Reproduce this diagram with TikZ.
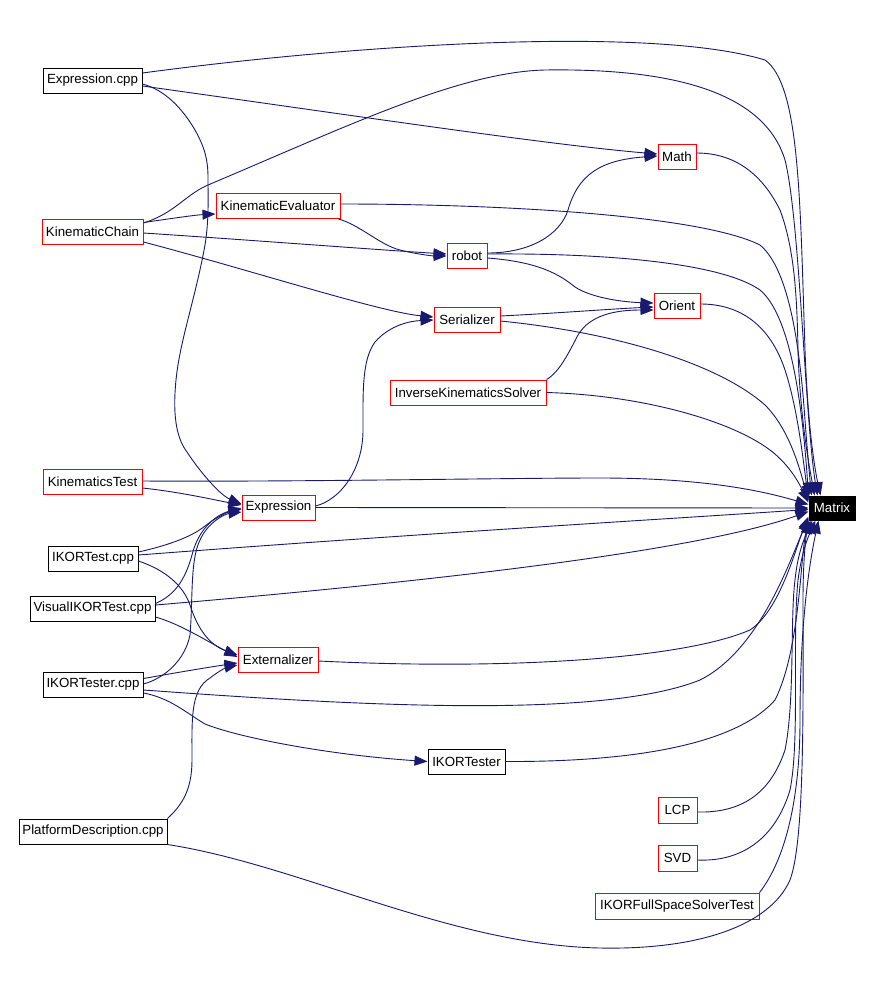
\documentclass[tikz,border=0pt]{standalone}
\usepackage{fontspec}
\setmainfont{Liberation Sans}
\usetikzlibrary{arrows.meta}
\definecolor{edgeblue}{RGB}{25,25,112}
\begin{document}
\begin{tikzpicture}[x=1pt,y=-1pt,
  box/.style={draw,line width=1pt,inner sep=0pt,minimum height=25pt,font=\fontsize{13.3}{15}\selectfont,text=black},
  rbox/.style={box,draw=red},
  kbox/.style={box,draw=black},
  edge/.style={draw=edgeblue,line width=0.9pt,-{Triangle[length=13pt,width=10pt]},fill=none}]
\fill[white] (0,0) rectangle (879,1004);
\useasboundingbox (0,0) rectangle (879,1004);

% nodes
\node[kbox,minimum width=99pt] (exprcpp) at (92.5,80.5) {Expression.cpp};
\node[rbox,minimum width=101pt] (kc) at (92.5,231.5) {KinematicChain};
\node[rbox,minimum width=124pt] (kineval) at (278,206) {KinematicEvaluator};
\node[rbox,minimum width=38pt] (math) at (677,156.5) {Math};
\node[rbox,minimum width=40pt] (robot) at (467,255.5) {robot};
\node[rbox,minimum width=46pt] (orient) at (677,306) {Orient};
\node[rbox,minimum width=66pt] (ser) at (467,319.5) {Serializer};
\node[rbox,minimum width=156pt] (iks) at (468,392.5) {InverseKinematicsSolver};
\node[rbox,minimum width=99pt] (kt) at (92.5,482) {KinematicsTest};
\node[rbox,minimum width=73pt] (expr) at (278.5,507.5) {Expression};
\node[kbox,minimum width=90pt] (ikt) at (93,558.5) {IKORTest.cpp};
\node[kbox,minimum width=125pt] (vikt) at (92.5,608.5) {VisualIKORTest.cpp};
\node[rbox,minimum width=80pt] (ext) at (278,659.5) {Externalizer};
\node[kbox,minimum width=100pt] (iktrcpp) at (93,684.5) {IKORTester.cpp};
\node[kbox,minimum width=77pt] (iktr) at (466.5,761.5) {IKORTester};
\node[kbox,minimum width=148pt] (pd) at (93,831.5) {PlatformDescription.cpp};
\node[rbox,minimum width=39pt,minimum height=26pt] (lcp) at (677.5,810) {LCP};
\node[rbox,minimum width=39pt,minimum height=26pt] (svd) at (677.5,858) {SVD};
\node[rbox,minimum width=164pt,minimum height=26pt] (ifst) at (677,906) {IKORFullSpaceSolverTest};
\node[box,fill=black,text=white,minimum width=46pt,minimum height=24pt] (mx) at (832,508) {Matrix};

% edges
% Expression.cpp
\draw[edge] ([yshift=7.5pt]exprcpp.east) .. controls (350,45) and (650,25) .. (765,60)
  .. controls (800,85) and (800,200) .. (805,350) .. controls (808,430) and (815,470) .. ([xshift=12pt]mx.north west);
\draw[edge] ([yshift=-5.5pt]exprcpp.east) .. controls (350,115) and (550,145) .. ([yshift=2.5pt]math.west);
\draw[edge] ([yshift=-3.5pt]exprcpp.east) .. controls (165,90) and (182,108) .. (195,130)
  .. controls (205,148) and (208,160) .. (208,178) .. controls (208,200) and (209,220) .. (205,245)
  .. controls (195,300) and (180,340) .. (176,380) .. controls (172,420) and (178,440) .. (187,452)
  .. controls (200,472) and (220,495) .. ([yshift=3.5pt]expr.west);
% KinematicChain
\draw[edge] ([yshift=8.5pt]kc.east) .. controls (175,213) and (185,195) .. (208,185)
  .. controls (350,125) and (460,72) .. (545,70) .. controls (680,68) and (765,95) .. (785,160)
  .. controls (800,220) and (805,420) .. ([xshift=9pt]mx.north west);
\draw[edge] ([yshift=9pt]kc.east) .. controls (175,218) and (195,215) .. ([yshift=-8pt]kineval.west);
\draw[edge] ([yshift=-1.5pt]kc.east) .. controls (250,240) and (380,250) .. ([yshift=1.5pt]robot.west);
\draw[edge] ([yshift=-10.5pt]kc.east) .. controls (250,270) and (380,312) .. ([yshift=2.5pt]ser.west);
% KinematicEvaluator
\draw[edge] ([yshift=2pt]kineval.east) .. controls (500,204) and (700,215) .. (760,245)
  .. controls (790,270) and (800,350) .. (805,420) .. controls (808,460) and (810,480) .. ([xshift=3pt]mx.north west);
\draw[edge] ([xshift=-2pt]kineval.south east) .. controls (360,225) and (380,245) .. (400,250)
  .. controls (420,255) and (435,256) .. ([yshift=-0.5pt]robot.west);
% Math
\draw[edge] ([yshift=3.5pt]math.east) .. controls (740,153) and (765,180) .. (780,210)
  .. controls (795,250) and (797,300) .. (798,350) .. controls (800,420) and (810,470) .. ([xshift=6pt]mx.north west);
% robot
\draw[edge] ([yshift=2.5pt]robot.east) .. controls (530,253) and (560,235) .. (568,210)
  .. controls (578,175) and (600,160) .. ([yshift=0.5pt]math.west);
\draw[edge] ([yshift=1.5pt]robot.east) .. controls (600,253) and (720,262) .. (760,290)
  .. controls (790,315) and (802,400) .. (mx.north west);
\draw[edge] ([yshift=-2.5pt]robot.east) .. controls (540,262) and (560,275) .. (575,287)
  .. controls (590,297) and (620,302) .. ([yshift=3pt]orient.west);
% Orient
\draw[edge] ([yshift=2pt]orient.east) .. controls (740,304) and (770,325) .. (785,370)
  .. controls (798,410) and (803,460) .. ([yshift=-3pt]mx.north west);
% Serializer
\draw[edge] ([yshift=3.5pt]ser.east) .. controls (560,313) and (610,309) .. ([yshift=-1pt]orient.west);
\draw[edge] ([yshift=-1.5pt]ser.east) .. controls (620,333) and (720,365) .. (765,405)
  .. controls (790,430) and (800,470) .. ([yshift=-5pt]mx.north west);
% InverseKinematicsSolver
\draw[edge] (iks.north east) .. controls (560,372) and (570,350) .. (578,335)
  .. controls (590,315) and (615,310) .. ([yshift=-4pt]orient.west);
\draw[edge] (iks.east) .. controls (640,395) and (730,420) .. (770,450)
  .. controls (790,465) and (800,485) .. ([yshift=-7pt]mx.north west);
% KinematicsTest
\draw[edge] ([yshift=1pt]kt.east) .. controls (300,482) and (500,478) .. (600,478)
  .. controls (700,478) and (760,490) .. ([yshift=-9pt]mx.north west);
\draw[edge] ([yshift=-6pt]kt.east) .. controls (180,492) and (215,500) .. ([yshift=2.5pt]expr.west);
% Expression
\draw[edge] ([yshift=1.5pt]expr.east) .. controls (340,500) and (363,470) .. (363,430)
  .. controls (363,390) and (362,360) .. (375,342) .. controls (390,325) and (410,321) .. ([yshift=-0.5pt]ser.west);
\draw[edge] (expr.east) -- (mx.west);
% IKORTest.cpp
\draw[edge] ([yshift=6.5pt]ikt.east) .. controls (165,546) and (190,538) .. (205,526)
  .. controls (215,518) and (228,512) .. ([yshift=-1.5pt]expr.west);
\draw[edge] ([yshift=3.5pt]ikt.east) .. controls (400,535) and (650,520) .. ([yshift=-14pt]mx.north west);
\draw[edge] ([yshift=-2.5pt]ikt.east) .. controls (165,570) and (183,585) .. (190,605)
  .. controls (198,630) and (210,645) .. ([yshift=4.5pt]ext.west);
% VisualIKORTest.cpp
\draw[edge] ([yshift=5pt]vikt.east) .. controls (175,595) and (185,580) .. (192,555)
  .. controls (198,530) and (215,515) .. ([yshift=-0.5pt]expr.west);
\draw[edge] ([yshift=3.5pt]vikt.east) .. controls (450,580) and (700,550) .. ([yshift=-16pt]mx.north west);
\draw[edge] ([yshift=-8.5pt]vikt.east) .. controls (180,624) and (205,640) .. ([yshift=2.5pt]ext.west);
% IKORTester.cpp
\draw[edge] ([yshift=0.5pt]iktrcpp.east) .. controls (165,678) and (185,660) .. (190,635)
  .. controls (193,600) and (190,560) .. (200,540) .. controls (208,522) and (225,514) .. ([yshift=-4.5pt]expr.west);
\draw[edge] ([yshift=6pt]iktrcpp.east) .. controls (180,672) and (210,667) .. ([yshift=-3.5pt]ext.west);
\draw[edge] ([yshift=-5.5pt]iktrcpp.east) .. controls (350,705) and (600,720) .. (700,680)
  .. controls (760,650) and (790,560) .. ([yshift=2pt]mx.south west);
\draw[edge] ([yshift=-8.5pt]iktrcpp.east) .. controls (170,698) and (185,712) .. (205,724)
  .. controls (240,738) and (330,755) .. (iktr.west);
% Externalizer
\draw[edge] ([yshift=-1.5pt]ext.east) .. controls (500,670) and (680,660) .. (750,630)
  .. controls (780,610) and (795,550) .. ([yshift=4pt]mx.south west);
% IKORTester
\draw[edge] (iktr.east) .. controls (650,762) and (740,740) .. (775,700)
  .. controls (800,650) and (800,560) .. (mx.south west);
% PlatformDescription.cpp
\draw[edge] (pd.north east) .. controls (182,805) and (192,790) .. (192,760)
  .. controls (192,720) and (190,690) .. (210,678) .. controls (220,670) and (228,667) .. ([yshift=-5.5pt]ext.west);
\draw[edge] (pd.south east) .. controls (300,865) and (450,945) .. (600,948)
  .. controls (700,950) and (770,925) .. (790,880) .. controls (805,840) and (803,700) .. (803,600)
  .. controls (803,560) and (806,535) .. ([xshift=2pt]mx.south west);
% LCP, SVD, IKORFullSpaceSolverTest
\draw[edge] ([yshift=-2pt]lcp.east) .. controls (740,813) and (770,795) .. (785,750)
  .. controls (795,700) and (790,620) .. (795,580) .. controls (798,550) and (806,535) .. ([xshift=4pt]mx.south west);
\draw[edge] ([yshift=-2pt]svd.east) .. controls (740,862) and (775,840) .. (790,790)
  .. controls (800,740) and (792,640) .. (798,580) .. controls (802,550) and (809,535) .. ([xshift=7pt]mx.south west);
\draw[edge] (ifst.north east) .. controls (785,860) and (800,800) .. (800,720)
  .. controls (800,620) and (810,560) .. ([xshift=10pt]mx.south west);
\end{tikzpicture}
\end{document}
